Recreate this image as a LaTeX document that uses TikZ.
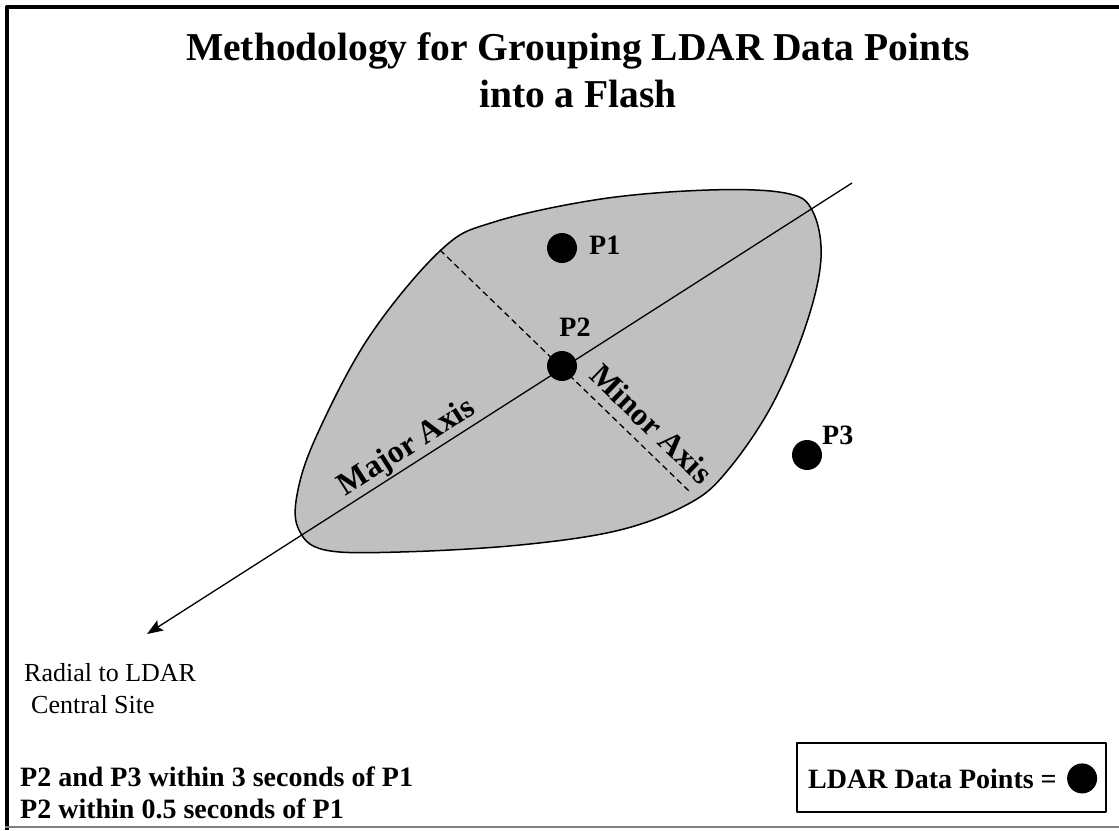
\documentclass[tikz,border=0pt]{standalone}
\usepackage{fontspec}
\setmainfont{Liberation Serif}
\usetikzlibrary{arrows.meta,positioning}
\definecolor{flashgray}{HTML}{C0C0C0}
\begin{document}
\begin{tikzpicture}[x=1pt,y=-1pt,>={Stealth[length=16pt,width=12pt,inset=3pt]},line join=round]
                \tikzset{dot/.style={circle,fill=black,minimum size=30pt,inner sep=0pt},
                         plabel/.style={font=\fontsize{28}{32}\selectfont\bfseries,inner sep=0pt},
                         axislabel/.style={font=\fontsize{32}{36}\selectfont\bfseries,inner sep=2pt}}
                \useasboundingbox (0,0) rectangle (1119,830);
                % frame
                \draw[line width=4pt] (7,830)--(7,7)--(1119,7);
                \draw[line width=1.5pt,gray] (5,827)--(1119,827);
                \node[font=\fontsize{39.5}{47}\selectfont\bfseries,align=center] (title) at (578,70)
                {Methodology for Grouping LDAR Data Points\\into a Flash};
                % flash region
                \draw[fill=flashgray,line width=1.5pt] plot[smooth cycle,tension=0.6] coordinates
                {(441,250) (494,222) (601,199) (709,190) (785,193) (812,210) (821,258) (806,325)
                 (772,405) (728,470) (690,503) (620,530) (520,545) (400,552) (325,550) (299,530)
                 (297,495) (316,437) (369,337)};
                \coordinate (majorA) at (852,183);
                \coordinate (majorB) at (147,634);
                \coordinate (minorA) at (440,250);
                \coordinate (minorB) at (690,492);
                \draw[line width=1.3pt,->] (majorA)--(majorB);
                \draw[line width=1.3pt,dash pattern=on 6pt off 4pt] (minorA)--(minorB);
                \node[axislabel,rotate=32.5,anchor=south] (majorlabel) at (416,462) {Major Axis};
                \node[axislabel,rotate=-44,anchor=south,inner sep=11pt] (minorlabel) at (636,440) {Minor Axis};
                % data points
                \node[dot] (p1) at (562,248) {};
                \node[dot] (p2) at (562,366) {};
                \node[dot] (p3) at (807,455) {};
                \node[plabel,anchor=base west] (p1label) at (589,254) {P1};
                \node[plabel,anchor=base] (p2label) at (575,336) {P2};
                \node[plabel,anchor=base west] (p3label) at (822,444) {P3};
                \node[font=\fontsize{26}{32}\selectfont,align=left,anchor=north west,inner sep=0pt] (radial) at (24,663)
                {Radial to LDAR\\\hspace*{7pt}Central Site};
                \node[font=\fontsize{28}{32}\selectfont\bfseries,align=left,anchor=south west,inner sep=0pt] (timing) at (20,819)
                {P2 and P3 within 3 seconds of P1\\P2 within 0.5 seconds of P1};
                % legend
                \node[draw,line width=1.2pt,minimum width=309pt,minimum height=69pt,inner sep=0pt] (legend) at (951.5,777.5) {};
                \node[font=\fontsize{28}{32}\selectfont\bfseries,anchor=base west,inner sep=0pt] (legendtext) at (808,788) {LDAR Data Points =};
                \node[dot,right=10pt of legendtext] (legenddot) {};
\end{tikzpicture}
\end{document}
